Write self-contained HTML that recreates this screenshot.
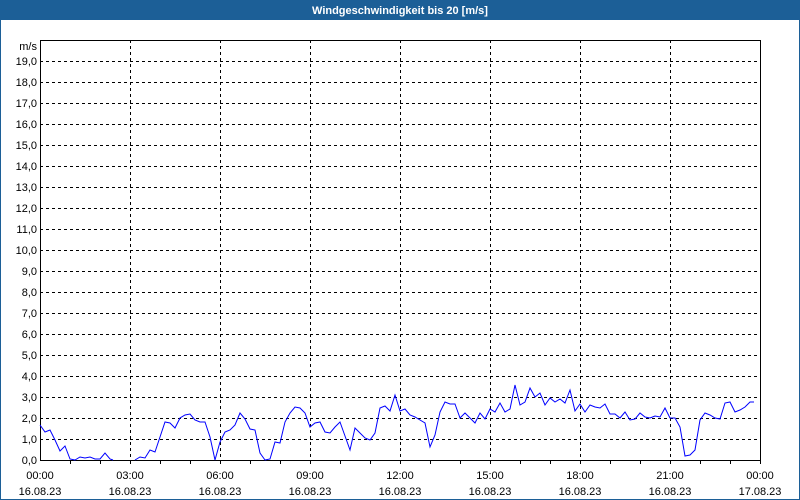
<!DOCTYPE html>
<html><head><meta charset="utf-8"><style>
body{margin:0;background:#fff}
svg{display:block}
text{font-family:"Liberation Sans",sans-serif;font-size:11px;fill:#000}
</style></head><body>
<svg width="800" height="500" viewBox="0 0 800 500" xmlns="http://www.w3.org/2000/svg">
<rect x="0" y="0" width="800" height="500" fill="#fff"/>
<rect x="0.5" y="0.5" width="799" height="499" fill="none" stroke="#1c5f97"/>
<rect x="0" y="0" width="800" height="20" fill="#1c5f97"/>
<text x="400" y="14" text-anchor="middle" style="fill:#fff;font-weight:bold">Windgeschwindigkeit bis 20 [m/s]</text>
<g stroke="#000" stroke-dasharray="3,3" stroke-width="1">
<path d="M40 61.5H760M40 82.5H760M40 103.5H760M40 124.5H760M40 145.5H760M40 166.5H760M40 187.5H760M40 208.5H760M40 229.5H760M40 250.5H760M40 271.5H760M40 292.5H760M40 313.5H760M40 334.5H760M40 355.5H760M40 376.5H760M40 397.5H760M40 418.5H760M40 439.5H760"/>
<path d="M130.5 40V460M220.5 40V460M310.5 40V460M400.5 40V460M490.5 40V460M580.5 40V460M670.5 40V460"/>
</g>
<g stroke="#000" stroke-width="1" fill="none">
<path d="M40.5 40V460.5H760.5V40M40 40.5H760"/>
<path d="M70.5 460V464M100.5 460V464M130.5 460V464M160.5 460V464M190.5 460V464M220.5 460V464M250.5 460V464M280.5 460V464M310.5 460V464M340.5 460V464M370.5 460V464M400.5 460V464M430.5 460V464M460.5 460V464M490.5 460V464M520.5 460V464M550.5 460V464M580.5 460V464M610.5 460V464M640.5 460V464M670.5 460V464M700.5 460V464M730.5 460V464M760.5 460V464"/>
</g>
<g text-anchor="end">
<text x="37" y="50">m/s</text>
<text x="37" y="65">19,0</text><text x="37" y="86">18,0</text><text x="37" y="107">17,0</text><text x="37" y="128">16,0</text><text x="37" y="149">15,0</text><text x="37" y="170">14,0</text><text x="37" y="191">13,0</text><text x="37" y="212">12,0</text><text x="37" y="233">11,0</text><text x="37" y="254">10,0</text><text x="37" y="275">9,0</text><text x="37" y="296">8,0</text><text x="37" y="317">7,0</text><text x="37" y="338">6,0</text><text x="37" y="359">5,0</text><text x="37" y="380">4,0</text><text x="37" y="401">3,0</text><text x="37" y="422">2,0</text><text x="37" y="443">1,0</text><text x="37" y="464">0,0</text>
</g>
<g text-anchor="middle">
<text x="40" y="479">00:00</text><text x="40" y="495">16.08.23</text>
<text x="130" y="479">03:00</text><text x="130" y="495">16.08.23</text>
<text x="220" y="479">06:00</text><text x="220" y="495">16.08.23</text>
<text x="310" y="479">09:00</text><text x="310" y="495">16.08.23</text>
<text x="400" y="479">12:00</text><text x="400" y="495">16.08.23</text>
<text x="490" y="479">15:00</text><text x="490" y="495">16.08.23</text>
<text x="580" y="479">18:00</text><text x="580" y="495">16.08.23</text>
<text x="670" y="479">21:00</text><text x="670" y="495">16.08.23</text>
<text x="760" y="479">00:00</text><text x="760" y="495">17.08.23</text>
</g>
<g fill="none" stroke="#0000ff" stroke-width="1">
<polyline points="40,425 45,432 50,430 55,440 60,451 65,446 70,459 75,460 80,457 85,458 90,457 95,459 100,459 105,453 110,459 113,460"/>
<polyline points="135,460 140,457 145,458 150,450 155,452 160,437 165,422 170,423 175,428 180,418 185,415 190,414 195,420 200,422 205,422 210,437 215,460 220,442 225,432 230,430 235,425 240,413 245,419 250,429 255,430 260,453 265,460 270,459 275,442 280,443 285,422 290,413 295,407 300,408 305,413 310,427 315,423 320,422 325,432 330,433 335,427 340,422 350,450 355,428 360,433 365,438 370,440 375,433 380,408 385,406 390,411 395,395 400,411 405,409 410,415 415,417 420,420 425,423 430,447 435,435 440,412 445,402 450,404 455,404 460,418 465,413 470,418 475,423 480,413 485,419 490,409 495,412 500,403 505,412 510,409 515,385 520,405 525,402 530,388 535,397 540,393 545,405 550,398 555,402 560,399 565,403 570,390 575,411 580,404 585,412 590,405 595,407 600,408 605,404 610,414 615,414 620,418 625,412 630,420 635,419 640,413 645,417 650,418 655,416 660,417 665,408 670,418 675,418 680,427 685,456 690,455 695,450 700,420 705,413 710,415 715,418 720,419 725,403 730,402 735,412 740,410 745,407 750,402 754,402"/>
</g>
</svg>
</body></html>
